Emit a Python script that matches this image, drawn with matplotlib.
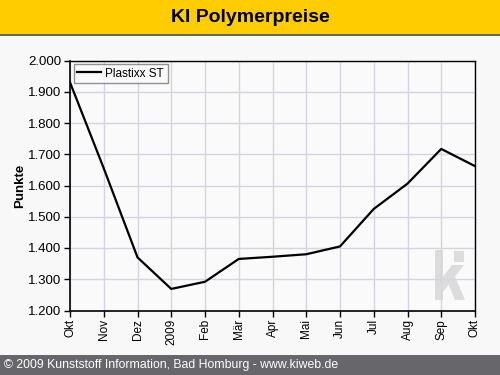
import matplotlib
matplotlib.use('Agg')
import matplotlib.pyplot as plt
from matplotlib.patches import Rectangle, Polygon
from matplotlib.ticker import FuncFormatter, MultipleLocator

plt.rcParams['font.family'] = ['Liberation Sans', 'DejaVu Sans']

# Plastixx ST index, Okt 2008 .. Okt 2009
months = ['Okt', 'Nov', 'Dez', '2009', 'Feb', 'Mär', 'Apr', 'Mai',
          'Jun', 'Jul', 'Aug', 'Sep', 'Okt']
plastixx_st = [1930, 1655, 1370, 1269, 1292, 1365, 1372, 1380,
               1405, 1525, 1606, 1717, 1662]

W, H = 500, 375

def px(xp, yp):
    # pixel (from top left) -> figure fraction
    return (xp / W, 1 - yp / H)

fig = plt.figure(figsize=(5, 3.75), dpi=100, facecolor='#f8f8f8')

# title bar and footer
fig.patches.append(Rectangle((0, 1 - 34/H), 1, 34/H, transform=fig.transFigure,
                             facecolor='#ffcc00', edgecolor='none'))
fig.patches.append(Rectangle((0, 1 - 36/H), 1, 2/H, transform=fig.transFigure,
                             facecolor='#666666', edgecolor='none'))
fig.patches.append(Rectangle((0, 0), 1, 20/H, transform=fig.transFigure,
                             facecolor='#67676b', edgecolor='none'))
fig.text(0.5, 1 - 17/H, 'KI Polymerpreise', ha='center', va='center',
         fontsize=14, fontweight='bold', color='black')
fig.text(4/W, 10/H, '© 2009 Kunststoff Information, Bad Homburg - www.kiweb.de',
         ha='left', va='center', fontsize=8.8, color='white')

ax = fig.add_axes([70/W, 64.5/H, 405/W, 250/H])
ax.set_facecolor('#fafafa')

x = list(range(len(months)))
ax.plot(x, plastixx_st, color='black', linewidth=1.6, label='Plastixx ST')

ax.set_xlim(0, len(months) - 1)
ax.set_ylim(1200, 2000)
ax.set_xticks(x)
ax.set_xticklabels(months, rotation=90, fontsize=8.5)
ax.yaxis.set_major_locator(MultipleLocator(100))
ax.yaxis.set_major_formatter(FuncFormatter(lambda v, p: f'{int(v):,}'.replace(',', '.')))
ax.tick_params(axis='y', labelsize=9.5, length=4, width=1, direction='out', pad=2)
ax.tick_params(axis='x', length=4, width=1, direction='out', pad=2)
ax.grid(True, color='#d4d4e2', linewidth=1)
ax.set_axisbelow(True)

for s in ['left', 'bottom']:
    ax.spines[s].set_linewidth(1.2)
ax.spines['top'].set_linewidth(1)
ax.spines['right'].set_linewidth(1)

ax.set_ylabel('Punkte', fontsize=9.5, fontweight='bold', labelpad=2)

# "ki" watermark, behind the grid
wm = '#dcdcdc'
shapes = [
    [px(435, 250), px(443, 250), px(443, 300), px(435, 300)],           # stem
    [px(454, 251), px(464, 251), px(464, 262), px(454, 262)],           # square dot
    [px(443, 277), px(452, 265), px(464, 265), px(443, 292)],           # upper arm
    [px(447, 281), px(454, 274), px(465, 300), px(455, 300)],           # lower arm
]
for pts in shapes:
    ax.add_patch(Polygon(pts, closed=True, transform=fig.transFigure,
                         facecolor=wm, edgecolor='none', zorder=0.1))

leg = ax.legend(loc='upper left', fontsize=8.5, frameon=True, fancybox=False,
                borderpad=0.3, handlelength=2.0, borderaxespad=0.3,
                handletextpad=0.4)
leg.get_frame().set_edgecolor('#777777')
leg.get_frame().set_facecolor('#fafafa')
leg.get_frame().set_linewidth(1)

fig.savefig('out.png', dpi=100, facecolor=fig.get_facecolor())
